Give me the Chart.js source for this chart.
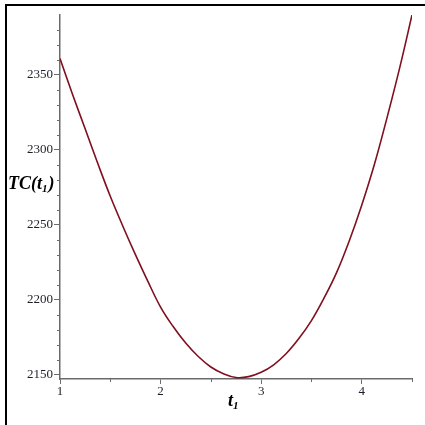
<!DOCTYPE html>
<html>
<head>
<meta charset="utf-8">
<script src="https://cdn.jsdelivr.net/npm/chart.js@4/dist/chart.umd.min.js"></script>
<style>
  html, body { margin: 0; padding: 0; background: #fff; }
  #wrap { width: 425px; height: 425px; }
</style>
</head>
<body>
<div id="wrap"><canvas id="tcChart" width="425" height="425"></canvas></div>
<script>
// values
const tValues  = [1, 1.125, 1.25, 1.375, 1.5, 1.625, 1.75, 1.875, 2, 2.125, 2.25, 2.375, 2.5, 2.625,
                  2.75, 2.875, 3, 3.125, 3.25, 3.375, 3.5, 3.625, 3.75, 3.875, 4, 4.125, 4.25, 4.375, 4.5];
const tcValues = [2361, 2337, 2314, 2291, 2269, 2249, 2230, 2212, 2195, 2182, 2171, 2162, 2155, 2150.5,
                  2148, 2148.6, 2151.5, 2156.5, 2164, 2174, 2186, 2201, 2218, 2239, 2263, 2290, 2321, 2354, 2390];
const xTicks = [1, 2, 3, 4];
const yTicks = [2150, 2200, 2250, 2300, 2350];
const xMinor = [1.5, 2.5, 3.5, 4.5];
const yMinor = [2160, 2170, 2180, 2190, 2210, 2220, 2230, 2240, 2260, 2270, 2280, 2290,
                2310, 2320, 2330, 2340, 2360, 2370, 2380];

const axisColor = '#6b6b6b';
const labelFont = { family: '"Liberation Serif", "DejaVu Serif", serif', size: 13 };

// frame, minor ticks and axis titles
const extras = {
  id: 'extras',
  beforeDraw(chart) {
    const c = chart.ctx;
    c.save();
    c.fillStyle = '#fff';
    c.fillRect(0, 0, chart.width, chart.height);
    c.strokeStyle = '#000';
    c.lineWidth = 2;
    c.beginPath();
    c.moveTo(6, 425);
    c.lineTo(6, 5);
    c.lineTo(425, 5);
    c.stroke();
    c.restore();
  },
  afterDraw(chart) {
    const c = chart.ctx;
    const xs = chart.scales.x, ys = chart.scales.y;
    const area = chart.chartArea;
    c.save();
    c.strokeStyle = axisColor;
    c.lineWidth = 1;
    c.beginPath();
    yMinor.forEach(v => {
      const y = Math.round(ys.getPixelForValue(v)) + 0.5;
      c.moveTo(area.left - 3, y);
      c.lineTo(area.left, y);
    });
    xMinor.forEach(v => {
      const x = Math.round(xs.getPixelForValue(v)) + 0.5;
      c.moveTo(x, area.bottom);
      c.lineTo(x, area.bottom + 3);
    });
    c.stroke();

    // y title: TC(t1)
    c.fillStyle = '#000';
    c.textBaseline = 'alphabetic';
    const big = 'italic bold 18px "Liberation Serif", serif';
    const sub = 'italic bold 11px "Liberation Serif", serif';
    let x = 8, y = 189;
    c.font = big;
    c.fillText('TC(', x, y); x += c.measureText('TC(').width;
    c.fillText('t', x, y); x += c.measureText('t').width;
    c.font = sub;
    c.fillText('1', x, y + 3); x += c.measureText('1').width + 1;
    c.font = big;
    c.fillText(')', x, y);

    // x title: t1
    x = 228; y = 406;
    c.font = big;
    c.fillText('t', x, y); x += c.measureText('t').width;
    c.font = sub;
    c.fillText('1', x, y + 3);
    c.restore();
  }
};

new Chart(document.getElementById('tcChart').getContext('2d'), {
  type: 'line',
  data: {
    datasets: [{
      data: tValues.map((t, i) => ({ x: t, y: tcValues[i] })),
      borderColor: '#800f1f',
      borderWidth: 1.6,
      pointRadius: 0,
      fill: false,
      tension: 0.4
    }]
  },
  options: {
    responsive: false,
    animation: false,
    layout: { padding: { top: 15, right: 13, left: 0, bottom: 0 } },
    plugins: { legend: { display: false }, tooltip: { enabled: false } },
    scales: {
      x: {
        type: 'linear',
        min: 1,
        max: 4.5,
        afterBuildTicks: s => { s.ticks = xTicks.map(v => ({ value: v })); },
        afterFit: s => { s.height = 46; },
        border: { display: true, color: axisColor, width: 1.5 },
        grid: { drawOnChartArea: false, drawTicks: true, tickLength: 5, color: axisColor },
        ticks: { color: '#1e1e28', font: labelFont, padding: 0, maxRotation: 0, callback: v => String(v) }
      },
      y: {
        type: 'linear',
        min: 2147,
        max: 2390,
        afterBuildTicks: s => { s.ticks = yTicks.map(v => ({ value: v })); },
        afterFit: s => { s.width = 60; },
        border: { display: true, color: axisColor, width: 1.5 },
        grid: { drawOnChartArea: false, drawTicks: true, tickLength: 6, color: axisColor },
        ticks: { color: '#1e1e28', font: labelFont, padding: 1, callback: v => String(v) }
      }
    }
  },
  plugins: [extras]
});
</script>
</body>
</html>
